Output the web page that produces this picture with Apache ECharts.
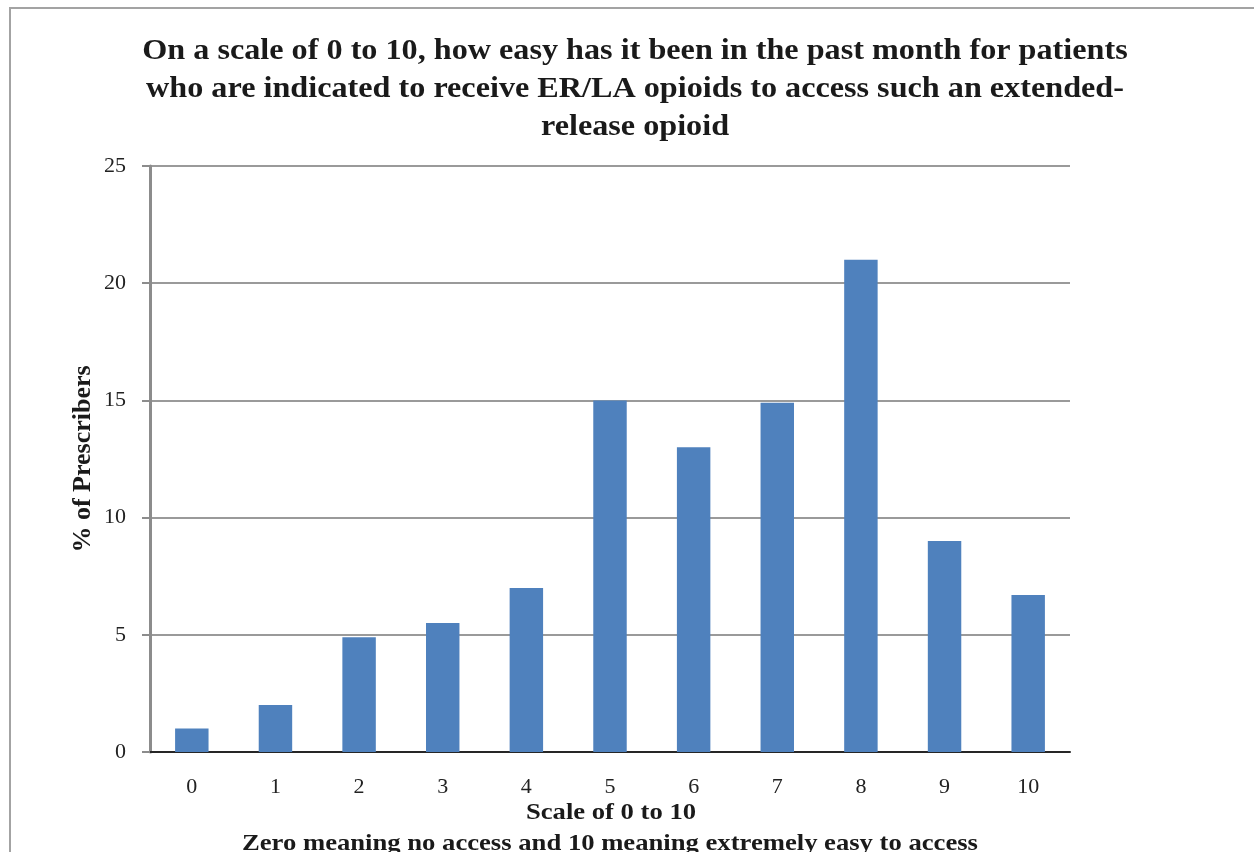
<!DOCTYPE html>
<html>
<head>
<meta charset="utf-8">
<style>
  html, body { margin: 0; padding: 0; background: #ffffff; }
  #chart { width: 1254px; height: 852px; }
</style>
<script src="https://cdn.jsdelivr.net/npm/echarts@6/dist/echarts.min.js"></script>
</head>
<body>
<div id="chart"></div>
<script>
// Survey scale points (0 = no access, 10 = extremely easy)
const categories = ['0', '1', '2', '3', '4', '5', '6', '7', '8', '9', '10'];
// Share of prescribers choosing each scale point, in percent
const prescriberShare = [1, 2, 4.9, 5.5, 7, 15, 13, 14.9, 21, 9, 6.7];
// Value-axis ticks
const yTicks = { min: 0, max: 25, interval: 5 };

const titleLines = [
  'On a scale of 0 to 10, how easy has it been in the past month for patients',
  'who are indicated to receive ER/LA opioids to access such an extended-',
  'release opioid'
];
const xNameLine1 = 'Scale of 0 to 10';
const xNameLine2 = 'Zero meaning no access and 10 meaning extremely easy to access';
const yName = '% of Prescribers';

const serif = '"Liberation Serif", "DejaVu Serif", serif';
const textColor = '#1a1a1a';
// the type is set slightly wide
const widen = 1.11;

function headingText(str, x, y, size) {
  return {
    type: 'text',
    x: x,
    y: y,
    scaleX: widen,
    silent: true,
    style: {
      text: str,
      x: 0,
      y: 0,
      align: 'center',
      verticalAlign: 'middle',
      font: 'bold ' + size + 'px ' + serif,
      fill: textColor
    },
    z: 10
  };
}

const chart = echarts.init(document.getElementById('chart'), null, { renderer: 'canvas' });

chart.setOption({
  backgroundColor: '#ffffff',
  animation: false,
  graphic: [
    {
      type: 'rect',
      shape: { x: 10, y: 8, width: 1300, height: 900 },
      style: { fill: 'none', stroke: '#a3a3a3', lineWidth: 2 },
      silent: true,
      z: 0
    },
    headingText(titleLines[0], 635, 52, 29),
    headingText(titleLines[1], 635, 90, 29),
    headingText(titleLines[2], 635, 128, 29),
    headingText(xNameLine1, 611, 813, 24),
    headingText(xNameLine2, 610, 844, 24)
  ],
  grid: {
    left: 150,
    right: 184,
    top: 166,
    bottom: 100,
    containLabel: false,
    outerBoundsMode: 'none'
  },
  xAxis: {
    type: 'category',
    data: categories,
    axisLine: { show: true, lineStyle: { color: '#262626', width: 2 } },
    axisTick: { show: false },
    axisLabel: {
      fontFamily: serif,
      fontSize: 22,
      color: '#222222',
      margin: 24
    },
    splitLine: { show: false }
  },
  yAxis: {
    type: 'value',
    min: yTicks.min,
    max: yTicks.max,
    interval: yTicks.interval,
    name: yName,
    nameLocation: 'middle',
    nameGap: 54,
    nameMoveOverlap: false,
    nameRotate: 90,
    nameTextStyle: {
      fontFamily: serif,
      fontWeight: 'bold',
      fontSize: 26,
      color: textColor
    },
    axisLine: { show: true, lineStyle: { color: '#8c8c8c', width: 3 } },
    axisTick: { show: true, inside: false, length: 8, lineStyle: { color: '#8c8c8c', width: 2 } },
    axisLabel: {
      fontFamily: serif,
      fontSize: 22,
      color: '#222222',
      margin: 24
    },
    splitLine: { show: true, lineStyle: { color: '#9a9a9a', width: 2 } }
  },
  series: [
    {
      type: 'bar',
      data: prescriberShare,
      barWidth: '40%',
      itemStyle: { color: '#4f81bd' },
      z: 2
    }
  ]
});
</script>
</body>
</html>
